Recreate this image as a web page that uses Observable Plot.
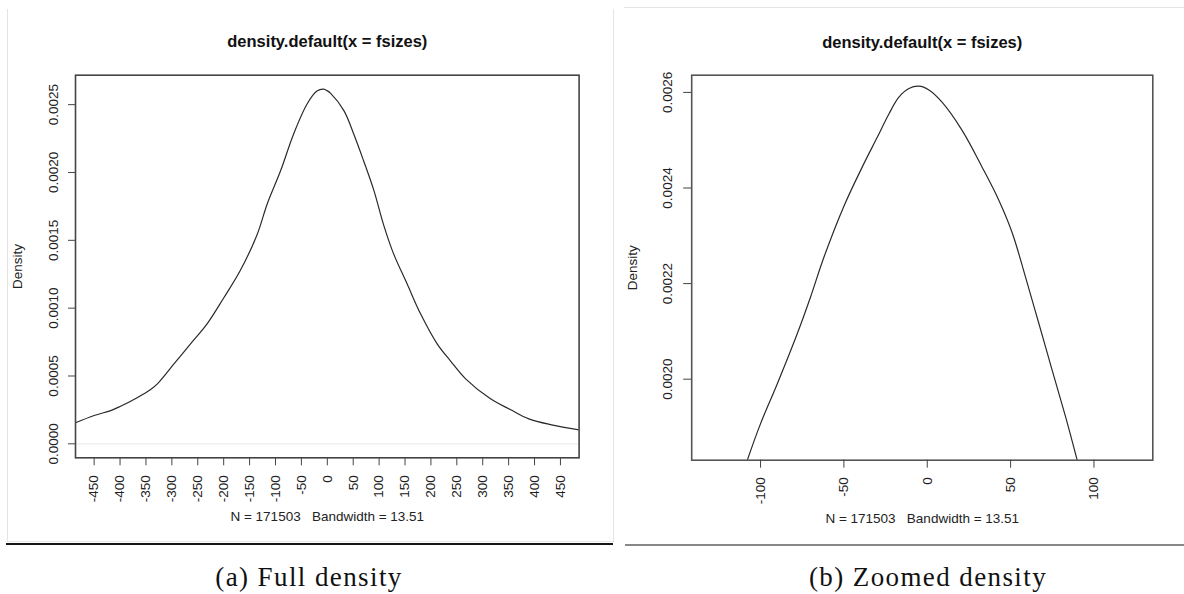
<!DOCTYPE html>
<html>
<head>
<meta charset="utf-8">
<script src="https://cdn.jsdelivr.net/npm/d3@7"></script>
<script src="https://cdn.jsdelivr.net/npm/@observablehq/plot@0.6"></script>
<style>
  html, body { margin: 0; padding: 0; background: #fff; }
  #wrap { position: relative; width: 1184px; height: 594px; overflow: hidden; background: #fff; }
  #wrap svg { position: absolute; top: 0; background: transparent; }
  .deco { position: absolute; }
  .cap { position: absolute; font-family: "Liberation Serif", "DejaVu Serif", serif; font-size: 27px; letter-spacing: 1.4px; color: #111; transform: translate(-50%, -50%); white-space: nowrap; }
</style>
</head>
<body>
<div id="wrap"></div>
<script>
// ---- data ----
const plotTitle = "density.default(x = fsizes)";
const subTitle = "N = 171503   Bandwidth = 13.51";
const yLabel = "Density";
const captionA = "(a) Full density";
const captionB = "(b) Zoomed density";

// full density curve
const fullX = [-486, -450, -418, -400, -367, -341, -328, -296, -264, -232, -200, -168, -135, -116, -90, -65, -39, -20, -7, 0, 6, 32, 51, 70, 90, 109, 128, 154, 180, 212, 238, 267, 315, 354, 389, 433, 486];
const fullY = [0.000155, 0.000209, 0.000245, 0.000275, 0.000340, 0.000400, 0.000442, 0.000589, 0.000737, 0.000884, 0.001075, 0.001277, 0.001547, 0.001768, 0.002014, 0.002284, 0.002505, 0.002600, 0.002614, 0.002602, 0.002585, 0.002456, 0.002284, 0.002087, 0.001866, 0.001610, 0.001400, 0.001179, 0.000958, 0.000737, 0.000610, 0.000479, 0.000332, 0.000251, 0.000184, 0.000140, 0.000103];

// zoomed density curve
const zoomX = [-108, -100, -90, -78, -70, -62, -50, -38, -30, -23, -17, -11, -5, 1, 9, 21, 33, 43, 51, 59, 67, 75, 83, 90];
const zoomY = [0.001830, 0.001907, 0.001990, 0.002095, 0.002172, 0.002255, 0.002362, 0.002451, 0.002506, 0.002555, 0.002590, 0.002608, 0.002613, 0.002605, 0.002579, 0.002520, 0.002443, 0.002374, 0.002306, 0.002213, 0.002116, 0.002018, 0.001921, 0.001830];

// ticks
const fullXTicks = [-450, -400, -350, -300, -250, -200, -150, -100, -50, 0, 50, 100, 150, 200, 250, 300, 350, 400, 450];
const fullYTicks = [0, 0.0005, 0.0010, 0.0015, 0.0020, 0.0025];
const zoomXTicks = [-100, -50, 0, 50, 100];
const zoomYTicks = [0.0020, 0.0022, 0.0024, 0.0026];

// ---- build ----
const fullData = fullX.map((x, i) => ({x, y: fullY[i]}));
const zoomData = zoomX.map((x, i) => ({x, y: zoomY[i]}));
const fmtY = d3.format(".4f");

function panel(opts) {
  const {data, xDomain, yDomain, xTicks, yTicks, width, height, ml, mr, mt, mb, zero, subDy, titleDy, ylabDx, yPad, yTick, xPad, xTick, frameStroke} = opts;
  const marks = [];
  if (zero) marks.push(Plot.ruleY([0], {stroke: "#d8d8d8", strokeWidth: 0.6}));
  marks.push(
    Plot.line(data, {x: "x", y: "y", stroke: "#2a2a2a", strokeWidth: 1.2, curve: "catmull-rom", clip: true}),
    Plot.frame({stroke: frameStroke, strokeWidth: 1.6}),
    Plot.axisY({ticks: yTicks, label: null, tickSize: yTick, tickPadding: yPad, tickRotate: -90, tickFormat: fmtY, stroke: "#444", fill: "#222"}),
    Plot.axisX({ticks: xTicks, label: null, tickSize: xTick, tickPadding: xPad, tickRotate: -90, tickFormat: d => `${d}`, stroke: "#444", fill: "#222"}),
    Plot.text([plotTitle], {text: d => d, frameAnchor: "top", lineAnchor: "middle", textAnchor: "middle", dy: titleDy, fontWeight: "bold", fontSize: 16.5, fill: "#111"}),
    Plot.text([subTitle], {text: d => d, frameAnchor: "bottom", lineAnchor: "middle", textAnchor: "middle", dy: subDy, fill: "#222"}),
    Plot.text([yLabel], {text: d => d, frameAnchor: "left", lineAnchor: "middle", textAnchor: "middle", dx: ylabDx, rotate: -90, fill: "#222"})
  );
  return Plot.plot({
    width, height,
    marginLeft: ml, marginRight: mr, marginTop: mt, marginBottom: mb,
    style: {fontFamily: "'Liberation Sans', Arial, sans-serif", fontSize: "13.5px", background: "transparent", color: "#222"},
    x: {domain: xDomain},
    y: {domain: yDomain},
    marks
  });
}

const wrap = document.getElementById("wrap");

const left = panel({
  data: fullData, xDomain: [-486, 486], yDomain: [-0.000103, 0.002717],
  xTicks: fullXTicks, yTicks: fullYTicks,
  width: 600, height: 545, ml: 75, mr: 21.4, mt: 74.7, mb: 87.7,
  zero: true, subDy: 59, titleDy: -33, ylabDx: -58,
  yPad: 11, yTick: 7, xPad: 9.5, xTick: 8, frameStroke: "#444"
});
left.style.left = "0px";
wrap.appendChild(left);

const right = panel({
  data: zoomData, xDomain: [-141.3, 135.3], yDomain: [0.0018305, 0.002636],
  xTicks: zoomXTicks, yTicks: zoomYTicks,
  width: 584, height: 545, ml: 91.2, mr: 31.7, mt: 74.7, mb: 85.3,
  zero: false, subDy: 58, titleDy: -32, ylabDx: -59.5,
  yPad: 12, yTick: 8, xPad: 9, xTick: 8, frameStroke: "#555"
});
right.style.left = "600px";
wrap.appendChild(right);

// decorative page frame lines
function deco(l, t, w, h, c) {
  const d = document.createElement("div");
  d.className = "deco";
  Object.assign(d.style, {left: l + "px", top: t + "px", width: w + "px", height: h + "px", background: c});
  wrap.appendChild(d);
}
deco(7, 9, 1, 533, "#e4e4e4");
deco(7, 541, 606, 1, "#e8e8e8");
deco(6, 543, 607, 2, "#151515");
deco(613, 9, 1, 533, "#e4e4e4");
deco(624, 7, 560, 1, "#e4e4e4");
deco(625, 544, 559, 2, "#888");

function cap(txt, x, y) {
  const d = document.createElement("div");
  d.className = "cap";
  d.textContent = txt;
  d.style.left = x + "px";
  d.style.top = y + "px";
  wrap.appendChild(d);
}
cap(captionA, 309, 577);
cap(captionB, 928, 577);
</script>
</body>
</html>
